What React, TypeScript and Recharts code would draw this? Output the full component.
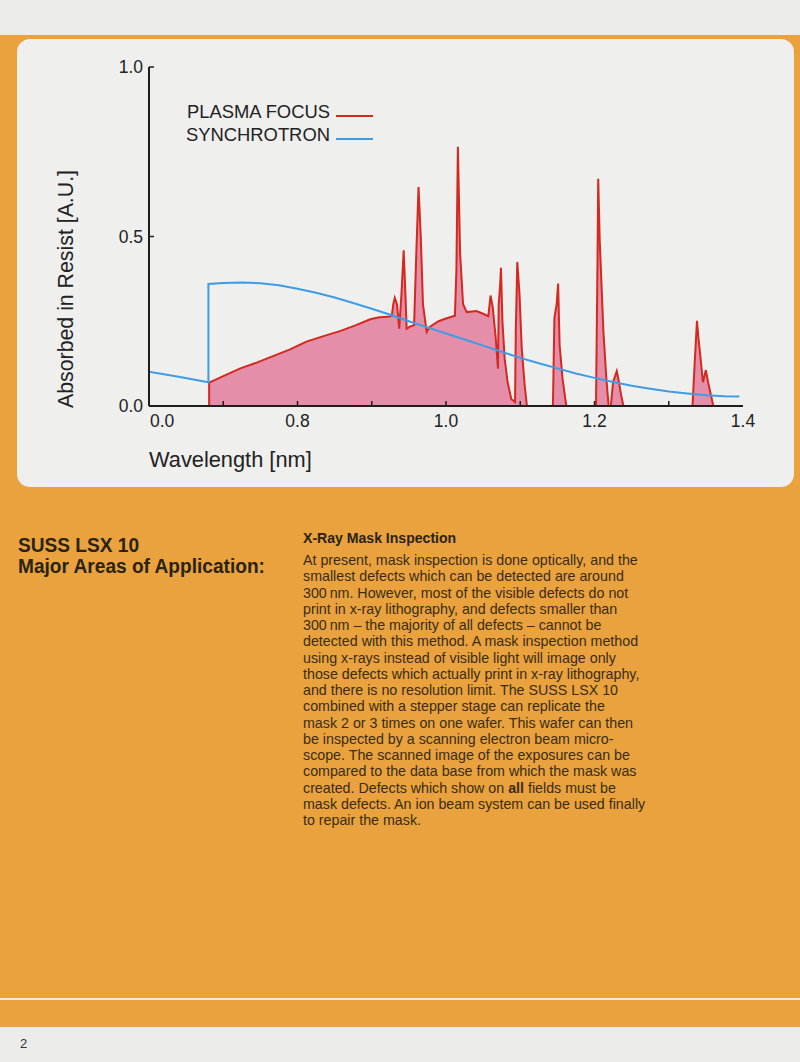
import React from 'react';
import { ComposedChart, Area, Line, XAxis, YAxis, Legend } from 'recharts';

// Plasma focus spectrum: [wavelength nm, absorbed A.U.]; null breaks the curve between isolated lines
const PLASMA_POINTS: [number, number | null][] = [
  [0.681, 0], [0.681, 0.069], [0.7, 0.088], [0.723, 0.111], [0.745, 0.128], [0.767, 0.147],
  [0.79, 0.167], [0.812, 0.19], [0.835, 0.206], [0.857, 0.221], [0.878, 0.238], [0.898, 0.256],
  [0.91, 0.262], [0.922, 0.263], [0.927, 0.266], [0.929, 0.3], [0.931, 0.319], [0.934, 0.3],
  [0.937, 0.228], [0.94, 0.33], [0.943, 0.459], [0.945, 0.35], [0.947, 0.228], [0.952, 0.235],
  [0.957, 0.238], [0.96, 0.45], [0.963, 0.646], [0.966, 0.5], [0.969, 0.3], [0.974, 0.218],
  [0.978, 0.233], [0.99, 0.25], [1.0, 0.258], [1.012, 0.266], [1.014, 0.4], [1.016, 0.765],
  [1.019, 0.45], [1.023, 0.3], [1.028, 0.277], [1.041, 0.28], [1.05, 0.272], [1.057, 0.265],
  [1.06, 0.326], [1.063, 0.29], [1.067, 0.2], [1.07, 0.11], [1.071, 0.3], [1.073, 0.36],
  [1.074, 0.408], [1.076, 0.25], [1.079, 0.14], [1.083, 0.07], [1.088, 0.02], [1.093, 0.012],
  [1.094, 0.22], [1.096, 0.425], [1.099, 0.33], [1.102, 0.17], [1.106, 0.06], [1.109, 0],
  [1.125, null],
  [1.144, 0], [1.146, 0.26], [1.149, 0.3], [1.151, 0.361], [1.153, 0.18], [1.157, 0.08], [1.162, 0],
  [1.18, null],
  [1.202, 0], [1.204, 0.42], [1.205, 0.67], [1.207, 0.49], [1.212, 0.22], [1.216, 0.08], [1.219, 0],
  [1.222, 0], [1.225, 0.07], [1.228, 0.09], [1.23, 0.103], [1.233, 0.07], [1.236, 0.03], [1.239, 0],
  [1.28, null],
  [1.332, 0], [1.335, 0.13], [1.338, 0.251], [1.34, 0.2], [1.342, 0.16], [1.346, 0.07],
  [1.35, 0.106], [1.353, 0.07], [1.357, 0.03], [1.36, 0],
];

// Synchrotron spectrum: [wavelength nm, absorbed A.U.]
const SYNC_POINTS: [number, number][] = [
  [0.6, 0.101], [0.64, 0.086], [0.68, 0.07], [0.68, 0.36], [0.7, 0.363], [0.725, 0.364],
  [0.75, 0.362], [0.775, 0.356], [0.8, 0.346], [0.825, 0.334], [0.85, 0.32], [0.875, 0.304],
  [0.9, 0.287], [0.925, 0.269], [0.95, 0.25], [0.975, 0.232], [1.0, 0.214], [1.025, 0.196],
  [1.05, 0.178], [1.075, 0.16], [1.1, 0.142], [1.125, 0.126], [1.15, 0.111], [1.175, 0.096],
  [1.2, 0.083], [1.225, 0.071], [1.25, 0.06], [1.275, 0.051], [1.3, 0.043], [1.325, 0.037],
  [1.35, 0.032], [1.375, 0.029], [1.395, 0.028],
];

const X_TICK_VALUES = [0.6, 0.7, 0.8, 0.9, 1.0, 1.1, 1.2, 1.3, 1.4];
const X_TICK_LABELS = ['0.0', '', '0.8', '', '1.0', '', '1.2', '', '1.4'];
const Y_TICK_VALUES = [0, 0.5, 1];
const Y_TICK_LABELS = ['0.0', '0.5', '1.0'];

const SERIES_NAMES = ['PLASMA FOCUS', 'SYNCHROTRON'];

const BODY_LINES = [
  'At present, mask inspection is done optically, and the',
  'smallest defects which can be detected are around',
  '300\u202Fnm. However, most of the visible defects do not',
  'print in x-ray lithography, and defects smaller than',
  '300\u202Fnm \u2013 the majority of all defects \u2013 cannot be',
  'detected with this method. A mask inspection method',
  'using x-rays instead of visible light will image only',
  'those defects which actually print in x-ray lithography,',
  'and there is no resolution limit. The SUSS LSX 10',
  'combined with a stepper stage can replicate the',
  'mask 2 or 3 times on one wafer. This wafer can then',
  'be inspected by a scanning electron beam micro-',
  'scope. The scanned image of the exposures can be',
  'compared to the data base from which the mask was',
  'created. Defects which show on **all** fields must be',
  'mask defects. An ion beam system can be used finally',
  'to repair the mask.',
];

const RED = '#d3291f';
const PINK = '#e48ea9';
const BLUE = '#3c9de6';
const AXIS = '#1e1e1e';
const FONT = "'Liberation Sans', Arial, Helvetica, sans-serif";

const plasmaData = PLASMA_POINTS.map(([x, y]) => ({ x, y }));
const syncData = SYNC_POINTS.map(([x, y]) => ({ x, y }));

const XTick = (props: any) => {
  const { x, y, index } = props;
  const label = X_TICK_LABELS[index];
  const isEnd = index === 0 || index === X_TICK_VALUES.length - 1;
  return (
    <g>
      {!isEnd && <line x1={x} x2={x} y1={y} y2={y - 5} stroke={AXIS} strokeWidth={1.5} />}
      {label && (
        <text x={index === 0 ? x + 1 : x} y={y + 21} textAnchor={index === 0 ? 'start' : 'middle'}
          fontFamily={FONT} fontSize={17.5} fill="#222">{label}</text>
      )}
    </g>
  );
};

const YTick = (props: any) => {
  const { x, y, index } = props;
  const label = Y_TICK_LABELS[index];
  return (
    <g>
      {index > 0 && <line x1={x} x2={x + 5} y1={y} y2={y} stroke={AXIS} strokeWidth={1.5} />}
      <text x={x - 6} y={y + 6} textAnchor="end" fontFamily={FONT} fontSize={17.5} fill="#222">{label}</text>
    </g>
  );
};

const LegendContent = () => (
  <svg width={200} height={50} style={{ display: 'block' }}>
    <text x={150} y={18} textAnchor="end" fontFamily={FONT} fontSize={18.4} fill="#222">{SERIES_NAMES[0]}</text>
    <line x1={156} x2={193} y1={16} y2={16} stroke={RED} strokeWidth={2} />
    <text x={150} y={41} textAnchor="end" fontFamily={FONT} fontSize={18.4} fill="#222">{SERIES_NAMES[1]}</text>
    <line x1={156} x2={193} y1={39} y2={39} stroke={BLUE} strokeWidth={2} />
  </svg>
);

const condensed = (sx: number): React.CSSProperties => ({ transform: `scaleX(${sx})`, transformOrigin: '0 0' });

export default function App() {
  return (
    <div style={{ position: 'absolute', left: 0, top: 0, width: 800, height: 1062, background: '#ebebea', overflow: 'hidden' }}>
      <div style={{ position: 'absolute', left: 0, top: 35, width: 800, height: 992, background: '#e9a23d' }} />
      <div style={{ position: 'absolute', left: 0, top: 998, width: 800, height: 2, background: '#f3ece0' }} />
      <div style={{ position: 'absolute', left: 17, top: 39, width: 777, height: 448, background: '#efefee', borderRadius: 13 }} />

      <div style={{ position: 'absolute', left: 0, top: 0 }}>
        <ComposedChart width={800} height={500} margin={{ top: 67, right: 57, bottom: 64, left: 89 }}>
          <XAxis dataKey="x" type="number" domain={[0.6, 1.4]} ticks={X_TICK_VALUES} interval={0}
            allowDataOverflow height={30} tickSize={0} tickMargin={0} tickLine={false}
            axisLine={{ stroke: AXIS, strokeWidth: 2 }} tick={<XTick />} />
          <YAxis type="number" domain={[0, 1]} ticks={Y_TICK_VALUES} interval={0} width={60}
            tickSize={0} tickMargin={0} tickLine={false}
            axisLine={{ stroke: AXIS, strokeWidth: 2 }} tick={<YTick />} />
          <Area data={plasmaData} dataKey="y" type="linear" stroke={RED} strokeWidth={2}
            fill={PINK} fillOpacity={1} isAnimationActive={false} connectNulls={false} dot={false} activeDot={false} />
          <Line data={syncData} dataKey="y" type="linear" stroke={BLUE} strokeWidth={2}
            dot={false} activeDot={false} isAnimationActive={false} />
          <Legend layout="vertical" align="center" verticalAlign="middle" content={<LegendContent />}
            wrapperStyle={{ position: 'absolute', left: 180, top: 100, width: 200, height: 50 }} />
          <text x={0} y={0} transform="translate(73, 289) rotate(-90)" textAnchor="middle"
            fontFamily={FONT} fontSize={21.3} fill="#222">Absorbed in Resist [A.U.]</text>
          <text x={149} y={467} fontFamily={FONT} fontSize={21.8} fill="#222">Wavelength [nm]</text>
        </ComposedChart>
      </div>

      <div style={{ position: 'absolute', left: 18, top: 535, fontFamily: FONT, fontWeight: 700, fontSize: 20, lineHeight: '21px', color: '#2a2212', whiteSpace: 'nowrap', ...condensed(0.955) }}>
        <div>SUSS LSX 10</div>
        <div>Major Areas of Application:</div>
      </div>

      <div style={{ position: 'absolute', left: 303, top: 530, fontFamily: FONT, fontWeight: 700, fontSize: 14.5, lineHeight: '16px', color: '#2a2212', whiteSpace: 'nowrap', ...condensed(0.97) }}>
        X-Ray Mask Inspection
      </div>

      <div style={{ position: 'absolute', left: 303, top: 552, fontFamily: FONT, fontSize: 15, lineHeight: '16.25px', color: '#3a2c14', whiteSpace: 'nowrap', ...condensed(0.95) }}>
        {BODY_LINES.map((line, i) => {
          const parts = line.split('**');
          return (
            <div key={i}>
              {parts.map((p, j) => (j % 2 === 1 ? <b key={j}>{p}</b> : <span key={j}>{p}</span>))}
            </div>
          );
        })}
      </div>

      <div style={{ position: 'absolute', left: 20, top: 1036, fontFamily: FONT, fontSize: 13, color: '#333' }}>2</div>
    </div>
  );
}
